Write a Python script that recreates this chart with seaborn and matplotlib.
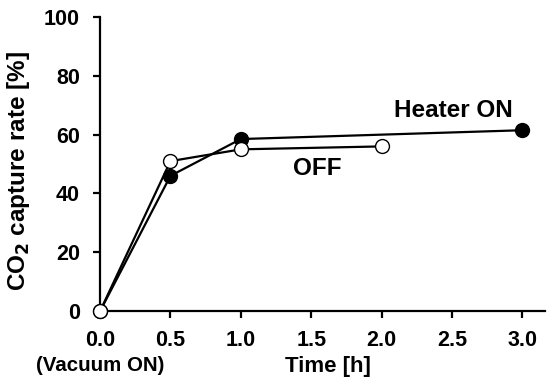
import matplotlib
matplotlib.use('Agg')
import matplotlib.pyplot as plt
import seaborn as sns
import pandas as pd

sns.set_theme(style='ticks')
plt.rcParams['font.family'] = ['Liberation Sans', 'DejaVu Sans']
plt.rcParams['font.weight'] = 'bold'
plt.rcParams['text.color'] = 'black'
plt.rcParams['axes.labelcolor'] = 'black'

# data
time_on = [0.0, 0.5, 1.0, 3.0]
rate_on = [0.0, 46.0, 58.5, 61.5]
time_off = [0.0, 0.5, 1.0, 2.0]
rate_off = [0.0, 51.0, 55.0, 56.0]
x_ticks = [0.0, 0.5, 1.0, 1.5, 2.0, 2.5, 3.0]
y_ticks = [0, 20, 40, 60, 80, 100]

df_on = pd.DataFrame({'Time': time_on, 'Rate': rate_on})
df_off = pd.DataFrame({'Time': time_off, 'Rate': rate_off})

fig = plt.figure(figsize=(5.47, 3.78), dpi=100)
ax = fig.add_axes([0.183, 0.177, 0.813, 0.778])

sns.lineplot(data=df_on, x='Time', y='Rate', ax=ax, color='black', lw=1.6,
             marker='o', markersize=10, markerfacecolor='black',
             markeredgecolor='black', markeredgewidth=1.0, zorder=3)
sns.lineplot(data=df_off, x='Time', y='Rate', ax=ax, color='black', lw=1.6,
             marker='o', markersize=10, markerfacecolor='white',
             markeredgecolor='black', markeredgewidth=1.0, zorder=4)

ax.set_xlim(0, 3.16)
ax.set_ylim(0, 100)
ax.set_xticks(x_ticks)
ax.set_yticks(y_ticks)
ax.set_xticklabels([f'{t:.1f}' for t in x_ticks], fontsize=15.5, fontweight='bold')
ax.set_yticklabels([str(t) for t in y_ticks], fontsize=15.5, fontweight='bold')
for sp in ['top', 'right']:
    ax.spines[sp].set_visible(False)
for sp in ['left', 'bottom']:
    ax.spines[sp].set_linewidth(1.6)
    ax.spines[sp].set_color('black')
ax.tick_params(direction='out', length=5, width=1.6, colors='black')
ax.tick_params(axis='x', pad=8.5)
ax.tick_params(axis='y', pad=9.5)
for l in ax.lines:
    l.set_clip_on(False)

ax.set_xlabel('Time [h]', fontsize=16, fontweight='bold')
ax.xaxis.set_label_coords(0.513, -0.153)
ax.xaxis.label.set_va('top')
ax.set_ylabel('CO$_\\mathbf{2}$ capture rate [%]', fontsize=17.5, fontweight='bold')
ax.yaxis.set_label_coords(-0.153, 0.476)
ax.text(-0.144, -0.152, '(Vacuum ON)', transform=ax.transAxes, ha='left', va='top',
        fontsize=14.8, fontweight='bold')

ax.text(2.09, 66, 'Heater ON', fontsize=17.5, fontweight='bold', ha='left', va='baseline')
ax.text(1.37, 46.3, 'OFF', fontsize=17.5, fontweight='bold', ha='left', va='baseline')

fig.savefig('out.png', dpi=100)
